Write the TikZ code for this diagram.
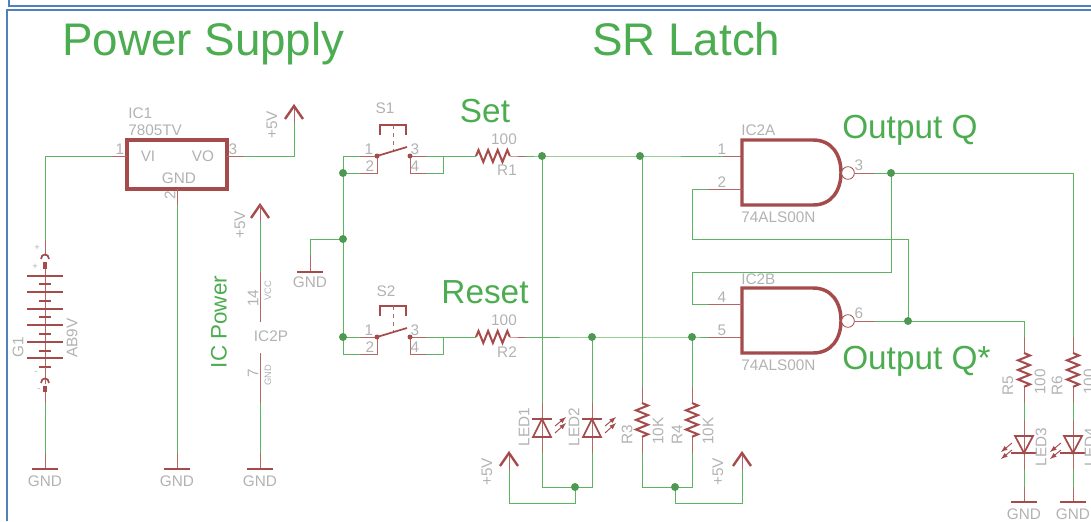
\documentclass[tikz,border=0pt]{standalone}
\usepackage{fontspec}
\setmainfont{Liberation Sans}
\definecolor{wiregreen}{RGB}{92,180,96}
\definecolor{partred}{RGB}{165,75,75}
\definecolor{labelgray}{RGB}{178,178,178}
\definecolor{titlegreen}{RGB}{76,172,80}
\definecolor{framblue}{RGB}{79,129,189}
\tikzstyle{wire} = [wiregreen,line width=0.75pt]
\tikzstyle{pin} = [partred!85,line width=0.75pt]
\tikzstyle{part} = [partred,line width=1.3pt]
\tikzstyle{chip} = [partred,line width=2.6pt]
\tikzstyle{frame} = [framblue,line width=2pt]
\tikzstyle{dot} = [circle,fill=wiregreen!85!black,inner sep=0,minimum size=6pt]
\tikzstyle{bubble} = [circle,draw=partred,line width=0.6pt,fill=white,inner sep=0,minimum size=9.5pt]
\tikzstyle{lbl} = [inner sep=0,text=labelgray,font=\fontsize{11.5}{11.5}\selectfont]
\tikzstyle{tiny} = [inner sep=0,text=labelgray,font=\fontsize{7}{7}\selectfont]
\tikzstyle{big} = [inner sep=0,text=titlegreen,font=\fontsize{34.3}{34.3}\selectfont]
\tikzstyle{mid} = [inner sep=0,text=titlegreen,font=\fontsize{25}{25}\selectfont]
\newcommand{\supply}[1]{\draw[part,line width=1.8pt] ($(#1)+(-9,13)$) -- (#1) -- ($(#1)+(9,13)$);}
\newcommand{\resV}[1]{\draw[part,line width=1.5pt] (#1) -- ++(6,2.5) -- ++(-12,4.8) -- ++(12,4.8) -- ++(-12,4.8) -- ++(12,4.8) -- ++(-12,4.8) -- ++(12,4.8) -- ++(-6,2.5);}
\newcommand{\resH}[1]{\draw[part,line width=1.5pt] (#1) -- ++(2.5,-6) -- ++(4.8,12) -- ++(4.8,-12) -- ++(4.8,12) -- ++(4.8,-12) -- ++(4.8,12) -- ++(4.8,-12) -- ++(2.5,6);}
\newcommand{\ledup}[1]{%
	\draw[part] ($(#1)+(-10,0)$) -- ($(#1)+(10,0)$);
	\draw[part] (#1) -- ($(#1)+(-9,18)$) -- ($(#1)+(9,18)$) -- cycle;
	\draw[part,line width=0.7pt,-latex] ($(#1)+(13,7)$) -- ($(#1)+(24,-2)$);
	\draw[part,line width=0.7pt,-latex] ($(#1)+(13,14)$) -- ($(#1)+(24,4)$);}
\newcommand{\leddown}[1]{%
	\draw[part] ($(#1)+(-13,0)$) -- ($(#1)+(13,0)$);
	\draw[part] (#1) -- ($(#1)+(-9,-17)$) -- ($(#1)+(9,-17)$) -- cycle;
	\draw[part,line width=0.7pt,-latex] ($(#1)+(-12,-10)$) -- ($(#1)+(-23,-1)$);
	\draw[part,line width=0.7pt,-latex] ($(#1)+(-12,-3)$) -- ($(#1)+(-23,6)$);}
\newcommand{\nandgate}[2]{\draw[chip] (742,#2) -- (813,#2) .. controls (832,#2) and (841,#2+15) .. (841,#2+32.5) .. controls (841,#2+50) and (832,#2+65) .. (813,#2+65) -- (742,#2+65) -- cycle;}
\usetikzlibrary{calc}
\begin{document}
\begin{tikzpicture}[x=0.75pt,y=-0.75pt]
	\clip (0,0) rectangle (1091,521);
	\foreach \n/\x/\y in {a1/9/0,a2/9/6,a3/1091/6,a4/7/10,a5/1091/10,a6/7/521,
		batT/45/240,batA/45/256,batB/45/378,batC/45/403,batD/45/453,batE/45/469,batF/45/156,
		vi/127/156,viS/112/156,vo/227/156,voS/244/156,voC/294/156,voT/294/123,voP/294/106,
		icg/177/189,icgS/177/205,icgT/177/453,icgB/177/469,
		ipP/260/205,ipA/260/222,ipB/260/272,ipC/260/322,ipD/260/353,ipE/260/403,ipF/260/453,ipG/260/469,
		gA/343/239,gB/310/239,gC/310/255,gD/310/272,
		sT/343/156,sU/343/173,sV/343/337,sW/343/354,
		aA/360/156,aB/377/156,aC/360/173,aD/377/173,aE/410/156,aF/427/156,aG/410/173,aH/427/173,aI/443/173,aJ/443/156,
		aK/476/156,aL/510/156,aM/526/156,aN/542/156,
		bA/360/337,bB/377/337,bC/360/354,bD/377/354,bE/410/337,bF/427/337,bG/410/354,bH/427/354,bI/443/354,bJ/443/337,
		bK/476/337,bL/510/337,bM/526/337,
		nA/640/156,nB/723/156,nC/742/156,nD/592/337,nE/692/337,nF/708/337,nG/742/337,
		pA/742/189,pB/708/189,pC/692/189,pD/692/239,pE/908/239,pF/908/321,
		qA/855/173,qB/875/173,qC/891/173,qD/1073/173,qE/891/272,qF/692/272,qG/692/304,qH/708/304,qI/742/304,
		rA/855/321,rB/875/321,rC/1024/321,
		la/542/403,lb/542/419,lc/542/437,ld/542/453,le/542/487,
		lf/592/403,lg/592/419,lh/592/437,li/592/453,lj/592/487,lk/575/487,ll/575/503,lm/509/503,ln/509/470,lo/509/453,
		ta/642/387,tb/642/403,tc/642/437,td/642/453,te/642/487,tf/642/156,
		tg/692/387,th/692/403,ti/692/437,tj/692/453,tk/692/487,tl/675/487,tm/675/503,tn/742/503,to/742/470,tp/742/453,
		ua/1024/337,ub/1024/353,uc/1024/387,ud/1024/403,ue/1024/420,uf/1024/436,ug/1024/453,uh/1024/470,ui/1024/487,uj/1024/502,
		va/1073/337,vb/1073/353,vc/1073/387,vd/1073/403,ve/1073/420,vf/1073/436,vg/1073/453,vh/1073/470,vi2/1073/487,vj/1073/502}
		\coordinate (\n) at (\x,\y);

	\draw[frame] (a1) -- (a2) -- (a3);
	\draw[frame] (a6) -- (a4) -- (a5);

	\node[big,anchor=base west] (titlePower) at (62,55) {Power Supply};
	\node[big,anchor=base west] (titleLatch) at (592,55) {SR Latch};
	\node[mid] (titleSet) at (485,111) {Set};
	\node[mid] (titleReset) at (485,292) {Reset};
	\node[mid,anchor=base west] (titleQ) at (842,138) {Output Q};
	\node[mid,anchor=base west] (titleQs) at (842,369) {Output Q*};
	\node[inner sep=0,text=titlegreen,font=\fontsize{16.8}{16.8}\selectfont,rotate=90] (titleIC) at (219,322) {IC Power};

	\node[chip,draw,fill=white,inner sep=0,minimum width=75pt,minimum height=36.75pt] (IC1) at (177,164.5) {};
	\draw[wire] (viS) -- (batF) -- (batT);
	\draw[pin] (viS) -- (vi);
	\draw[pin] (vo) -- (voS);
	\draw[wire] (voS) -- (voC) -- (voT);
	\draw[pin] (voT) -- (voP);
	\supply{voP}
	\draw[pin] (icg) -- (icgS);
	\draw[wire] (icgS) -- (icgT);
	\draw[pin] (icgT) -- (icgB);
	\draw[part,line width=1.5pt] (164,469) -- (190,469);

	\draw[pin] (batT) -- (batA);
	\draw[part] (41,259) .. controls (41,253) and (49,253) .. (49,259);
	\draw[part,line width=3pt] (45,262) -- (45,269);
	\draw[pin] (45,269) -- (45,367);
	\foreach \y in {276,292,309,325,342,358}
		\draw[part,line width=2.2pt] (27,\y) -- (63,\y);
	\foreach \y in {284,301,317,334,351,367}
		\draw[part,line width=2.2pt] (39,\y) -- (51,\y);
	\draw[pin] (45,367) -- (45,384);
	\draw[part] (41,383) .. controls (41,377) and (49,377) .. (49,383);
	\draw[part,line width=3pt] (45,386) -- (45,392);
	\draw[pin] (45,392) -- (batC);
	\draw[wire] (batC) -- (batD);
	\draw[pin] (batD) -- (batE);
	\draw[part,line width=1.5pt] (32,469) -- (58,469);

	\supply{ipP}
	\draw[pin] (ipP) -- (ipA);
	\draw[wire] (ipA) -- (ipB);
	\draw[pin] (ipB) -- (ipC);
	\draw[pin] (ipD) -- (ipE);
	\draw[wire] (ipE) -- (ipF);
	\draw[pin] (ipF) -- (ipG);
	\draw[part,line width=1.5pt] (247,469) -- (273,469);

	\draw[wire] (sT) -- (sW) -- (bC);
	\draw[wire] (sT) -- (aA);
	\draw[wire] (sU) -- (aC);
	\draw[wire] (sV) -- (bA);
	\draw[wire] (gA) -- (gB) -- (gC);
	\draw[pin] (gC) -- (gD);
	\draw[part,line width=1.5pt] (297,272) -- (323,272);

	\foreach \s/\dy in {a/0,b/181}{
		\draw[pin] (\s A) -- (\s B);
		\draw[pin] (\s C) -- (\s D) -- (\s B);
		\draw[pin] (\s E) -- (\s F);
		\draw[pin] (\s E) -- (\s G) -- (\s H);
		\draw[wire] (\s H) -- (\s I) -- (\s J) -- (\s F);
		\draw[wire] (\s J) -- (\s K);
		\draw[pin] (\s K) -- (\s L) -- (\s M);
		\draw[part] (\s B) -- (407,147+\dy);
		\fill[partred] (\s B) circle (2.5);
		\fill[partred] (\s E) circle (2.5);
		\draw[part] (380,135+\dy) -- (380,125+\dy) -- (406,125+\dy) -- (406,135+\dy);
		\draw[pin,dashed] (393,125+\dy) -- (393,150+\dy);
	}
	\draw[white,line width=2.5pt] (aK) -- (aL);
	\draw[white,line width=2.5pt] (bK) -- (bL);
	\resH{aK}
	\resH{bK}

	\draw[wire] (aM) -- (aN) -- (nA) -- (nB);
	\draw[pin] (nB) -- (nC);
	\draw[wire] (bM) -- (nD) -- (nE) -- (nF);
	\draw[pin] (nF) -- (nG);

	\nandgate{IC2A}{140}
	\nandgate{IC2B}{288}
	\node[bubble] (bubA) at (848,173) {};
	\node[bubble] (bubB) at (848,321) {};
	\draw[pin] (pA) -- (pB);
	\draw[wire] (pB) -- (pC) -- (pD) -- (pE) -- (pF);
	\draw[pin] (qA) -- (qB);
	\draw[wire] (qB) -- (qD) -- (va);
	\draw[wire] (qC) -- (qE) -- (qF) -- (qG) -- (qH);
	\draw[pin] (qH) -- (qI);
	\draw[pin] (rA) -- (rB);
	\draw[wire] (rB) -- (rC) -- (ua);

	\draw[wire] (aN) -- (la);
	\draw[pin] (la) -- (ld);
	\draw[wire] (ld) -- (le) -- (lj) -- (li);
	\draw[pin] (li) -- (lf);
	\draw[wire] (lf) -- (nD);
	\ledup{lb}
	\ledup{lg}
	\draw[wire] (lk) -- (ll) -- (lm) -- (ln);
	\draw[pin] (ln) -- (lo);
	\supply{lo}

	\draw[wire] (tf) -- (ta);
	\draw[pin] (ta) -- (tb);
	\draw[pin] (tc) -- (td);
	\draw[wire] (td) -- (te) -- (tk) -- (tj);
	\draw[pin] (tj) -- (ti);
	\draw[pin] (th) -- (tg);
	\draw[wire] (tg) -- (nE);
	\resV{tb}
	\resV{th}
	\draw[wire] (tl) -- (tm) -- (tn) -- (to);
	\draw[pin] (to) -- (tp);
	\supply{tp}

	\draw[pin] (ua) -- (ub);
	\draw[pin] (uc) -- (ud);
	\draw[wire] (ud) -- (ue);
	\draw[pin] (ue) -- (uh);
	\draw[wire] (uh) -- (ui);
	\draw[pin] (ui) -- (uj);
	\draw[part,line width=1.5pt] (1011,502) -- (1037,502);
	\resV{ub}
	\leddown{ug}
	\draw[pin] (va) -- (vb);
	\draw[pin] (vc) -- (vd);
	\draw[wire] (vd) -- (ve);
	\draw[pin] (ve) -- (vh);
	\draw[wire] (vh) -- (vi2);
	\draw[pin] (vi2) -- (vj);
	\draw[part,line width=1.5pt] (1060,502) -- (1086,502);
	\resV{vb}
	\leddown{vg}

	\foreach \c in {aN,nA,sU,gA,sV,nD,nE,lk,tl,pF,qC}
		\node[dot] (dot\c) at (\c) {};

	\node[lbl,anchor=west] (txtIC1) at (128,113) {IC1};
	\node[lbl,anchor=west] (txtIC1v) at (128,130) {7805TV};
	\node[lbl] (txtVI) at (148,156) {VI};
	\node[lbl] (txtVO) at (203,156) {VO};
	\node[lbl] (txtIC1g) at (179,178) {GND};
	\node[lbl] (txtP1) at (120,149) {1};
	\node[lbl] (txtP3) at (233,149) {3};
	\node[lbl,rotate=90] (txtP2) at (170,195) {2};
	\node[lbl,rotate=90] (txt5Va) at (272,125) {+5V};
	\node[lbl,rotate=90] (txt5Vb) at (240,225) {+5V};
	\node[lbl,rotate=90] (txt5Vc) at (487,472) {+5V};
	\node[lbl,rotate=90] (txt5Vd) at (718,472) {+5V};
	\node[lbl,rotate=90] (txtG1) at (18,347) {G1};
	\node[lbl,rotate=90] (txtAB) at (72,338) {AB9V};
	\node[tiny] (txtPa) at (37,248) {+};
	\node[tiny] (txtPb) at (35,267) {+};
	\node[tiny] (txtMa) at (36,373) {-};
	\node[tiny] (txtMb) at (39,390) {-};
	\node[lbl] (txtGa) at (45,481) {GND};
	\node[lbl] (txtGb) at (177,481) {GND};
	\node[lbl] (txtGc) at (260,481) {GND};
	\node[lbl] (txtGd) at (310,282) {GND};
	\node[lbl] (txtGe) at (1024,514) {GND};
	\node[lbl] (txtGf) at (1073,514) {GND};
	\node[lbl] (txtIC2P) at (271,336) {IC2P};
	\node[lbl,rotate=90] (txt14) at (253,298) {14};
	\node[lbl,rotate=90] (txt7) at (253,373) {7};
	\node[tiny,rotate=90] (txtVCC) at (268,291) {VCC};
	\node[tiny,rotate=90] (txtGND) at (268,375) {GND};

	\node[lbl] (txtS1) at (385,108) {S1};
	\node[lbl] (txtS2) at (386,291) {S2};
	\foreach \s/\dy in {a/0,b/181}{
		\node[lbl] (txt1\s) at (369,149+\dy) {1};
		\node[lbl] (txt2\s) at (370,166+\dy) {2};
		\node[lbl] (txt3\s) at (415,149+\dy) {3};
		\node[lbl] (txt4\s) at (415,166+\dy) {4};
		\node[lbl] (txt100\s) at (504,139+\dy) {100};
	}
	\node[lbl] (txtR1) at (507,170) {R1};
	\node[lbl] (txtR2) at (507,352) {R2};

	\node[lbl,rotate=90] (txtLED1) at (524,427) {LED1};
	\node[lbl,rotate=90] (txtLED2) at (574,427) {LED2};
	\node[lbl,rotate=90] (txtR3) at (627,435) {R3};
	\node[lbl,rotate=90] (txt10a) at (658,431) {10K};
	\node[lbl,rotate=90] (txtR4) at (677,435) {R4};
	\node[lbl,rotate=90] (txt10b) at (708,431) {10K};

	\node[lbl,anchor=west] (txtIC2A) at (741,130) {IC2A};
	\node[lbl,anchor=west] (txtAL1) at (741,217) {74ALS00N};
	\node[lbl,anchor=west] (txtIC2B) at (741,279) {IC2B};
	\node[lbl,anchor=west] (txtAL2) at (741,365) {74ALS00N};
	\node[lbl] (txtG1p) at (722,149) {1};
	\node[lbl] (txtG2p) at (722,182) {2};
	\node[lbl] (txtG4p) at (722,297) {4};
	\node[lbl] (txtG5p) at (722,330) {5};
	\node[lbl] (txtG3p) at (859,165) {3};
	\node[lbl] (txtG6p) at (859,313) {6};

	\node[lbl,rotate=90] (txtR5) at (1008,386) {R5};
	\node[lbl,rotate=90] (txt100c) at (1040,382) {100};
	\node[lbl,rotate=90] (txtLED3) at (1041,447) {LED3};
	\node[lbl,rotate=90] (txtR6) at (1057,386) {R6};
	\node[lbl,rotate=90] (txt100d) at (1089,382) {100};
	\node[lbl,rotate=90] (txtLED4) at (1090,447) {LED4};
\end{tikzpicture}
\end{document}
